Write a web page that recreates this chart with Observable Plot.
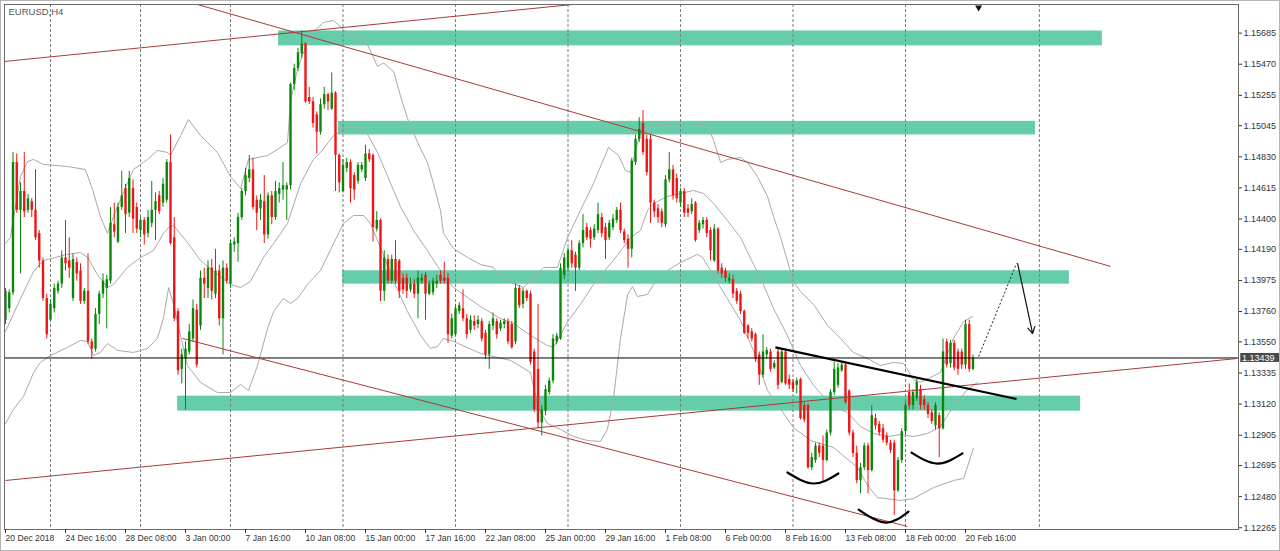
<!DOCTYPE html>
<html><head><meta charset="utf-8">
<script src="https://cdn.jsdelivr.net/npm/d3@7"></script>
<script src="https://cdn.jsdelivr.net/npm/@observablehq/plot@0.6"></script>
<style>
html,body{margin:0;padding:0;background:#fff;}
#wrap{position:relative;width:1280px;height:551px;overflow:hidden;}
#edge{position:absolute;left:0;top:0;width:1280px;height:551px;box-sizing:border-box;border:1px solid #b5b5b5;pointer-events:none;}
</style></head><body><div id="wrap"><div id="chart"></div><div id="edge"></div></div>
<script>
// ---- EURUSD H4 candles (bar index 0 = 20 Dec 2018 00:00) ----
const opens = [
1.1370,1.1378,1.1389,1.1479,1.1446,1.1459,1.1446,1.1452,1.1446,1.1430,
1.1411,1.1385,1.1370,1.1378,1.1390,1.1395,1.1413,1.1411,1.1385,1.1410,
1.1404,1.1383,1.1390,1.1355,1.1350,1.1374,1.1388,1.1392,1.1397,1.1436,
1.1424,1.1448,1.1461,1.1444,1.1461,1.1448,1.1432,1.1439,1.1430,1.1437,
1.1446,1.1456,1.1451,1.1453,1.1479,1.1427,1.1376,1.1336,1.1343,1.1348,
1.1357,1.1377,1.1366,1.1399,1.1392,1.1406,1.1388,1.1404,1.1371,1.1406,
1.1395,1.1422,1.1423,1.1441,1.1459,1.1468,1.1474,1.1453,1.1447,1.1452,
1.1429,1.1456,1.1441,1.1457,1.1460,1.1460,1.1463,1.1533,1.1544,1.1554,
1.1561,1.1524,1.1521,1.1512,1.1500,1.1519,1.1526,1.1516,1.1527,1.1484,
1.1459,1.1475,1.1479,1.1470,1.1466,1.1474,1.1468,1.1485,1.1484,1.1433,
1.1439,1.1390,1.1412,1.1397,1.1412,1.1411,1.1399,1.1399,1.1391,1.1395,
1.1388,1.1397,1.1401,1.1388,1.1389,1.1395,1.1401,1.1399,1.1399,1.1359,
1.1360,1.1376,1.1378,1.1371,1.1363,1.1369,1.1367,1.1369,1.1361,1.1346,
1.1366,1.1369,1.1364,1.1367,1.1369,1.1367,1.1355,1.1392,1.1381,1.1390,
1.1388,1.1348,1.1336,1.1299,1.1307,1.1320,1.1328,1.1355,1.1357,1.1401,
1.1406,1.1418,1.1415,1.1406,1.1423,1.1434,1.1432,1.1427,1.1432,1.1441,
1.1434,1.1427,1.1434,1.1439,1.1446,1.1431,1.1426,1.1419,1.1479,1.1495,
1.1506,1.1495,1.1495,1.1451,1.1447,1.1445,1.1436,1.1467,1.1474,1.1468,
1.1451,1.1459,1.1447,1.1445,1.1451,1.1432,1.1436,1.1439,1.1432,1.1411,
1.1433,1.1406,1.1404,1.1397,1.1398,1.1390,1.1388,1.1376,1.1366,1.1362,
1.1360,1.1346,1.1332,1.1346,1.1348,1.1337,1.1348,1.1327,1.1348,1.1329,
1.1327,1.1325,1.1329,1.1311,1.1311,1.1268,1.1273,1.1283,1.1283,1.1273,
1.1292,1.1320,1.1325,1.1335,1.1339,1.1321,1.1292,1.1278,1.1259,1.1268,
1.1283,1.1266,1.1302,1.1298,1.1295,1.1290,1.1285,1.1285,1.1252,1.1273,
1.1293,1.1320,1.1311,1.1316,1.1322,1.1315,1.1311,1.1306,1.1297,1.1304,
1.1295,1.1355,1.1340,1.1354,1.1348,1.1348,1.1339,1.1367,1.1336];
const highs = [
1.1392,1.1391,1.1486,1.1485,1.1465,1.1486,1.1457,1.1454,1.1474,1.1432,
1.1413,1.1388,1.1384,1.1395,1.1397,1.1418,1.1439,1.1427,1.1416,1.1413,
1.1409,1.1392,1.1416,1.1357,1.1378,1.1390,1.1402,1.1401,1.1448,1.1451,
1.1451,1.1473,1.1464,1.1473,1.1467,1.1451,1.1441,1.1441,1.1446,1.1466,
1.1458,1.1459,1.1468,1.1481,1.1498,1.1441,1.1378,1.1350,1.1355,1.1367,
1.1384,1.1381,1.1404,1.1406,1.1411,1.1412,1.1419,1.1408,1.1411,1.1409,
1.1425,1.1427,1.1444,1.1461,1.1475,1.1484,1.1482,1.1456,1.1457,1.1470,
1.1458,1.1459,1.1466,1.1465,1.1479,1.1465,1.1534,1.1547,1.1558,1.1570,
1.1562,1.1531,1.1524,1.1514,1.1523,1.1531,1.1527,1.1541,1.1528,1.1485,
1.1481,1.1482,1.1481,1.1472,1.1479,1.1479,1.1491,1.1488,1.1485,1.1445,
1.1440,1.1418,1.1415,1.1415,1.1425,1.1412,1.1402,1.1402,1.1399,1.1398,
1.1404,1.1402,1.1403,1.1397,1.1399,1.1401,1.1404,1.1410,1.1402,1.1374,
1.1381,1.1382,1.1391,1.1374,1.1373,1.1373,1.1373,1.1371,1.1363,1.1369,
1.1375,1.1371,1.1370,1.1371,1.1371,1.1369,1.1395,1.1394,1.1392,1.1391,
1.1390,1.1350,1.1381,1.1311,1.1325,1.1330,1.1360,1.1361,1.1409,1.1416,
1.1420,1.1425,1.1417,1.1425,1.1443,1.1437,1.1434,1.1436,1.1451,1.1444,
1.1437,1.1439,1.1443,1.1448,1.1451,1.1433,1.1429,1.1482,1.1498,1.1510,
1.1515,1.1498,1.1498,1.1453,1.1450,1.1447,1.1470,1.1486,1.1477,1.1471,
1.1461,1.1461,1.1450,1.1454,1.1452,1.1439,1.1441,1.1441,1.1434,1.1436,
1.1434,1.1409,1.1406,1.1402,1.1401,1.1392,1.1390,1.1377,1.1367,1.1364,
1.1361,1.1348,1.1360,1.1351,1.1350,1.1342,1.1350,1.1350,1.1350,1.1332,
1.1329,1.1330,1.1330,1.1313,1.1312,1.1278,1.1285,1.1285,1.1290,1.1294,
1.1322,1.1341,1.1340,1.1341,1.1340,1.1322,1.1294,1.1283,1.1271,1.1285,
1.1285,1.1311,1.1305,1.1300,1.1298,1.1292,1.1287,1.1287,1.1275,1.1295,
1.1313,1.1326,1.1322,1.1329,1.1325,1.1318,1.1313,1.1308,1.1313,1.1306,
1.1357,1.1357,1.1356,1.1356,1.1350,1.1350,1.1370,1.1370,1.1346];
const lows = [
1.1367,1.1375,1.1387,1.1444,1.1402,1.1441,1.1444,1.1441,1.1425,1.1406,
1.1383,1.1357,1.1369,1.1375,1.1388,1.1392,1.1404,1.1399,1.1383,1.1397,
1.1381,1.1381,1.1353,1.1343,1.1348,1.1367,1.1385,1.1364,1.1395,1.1427,
1.1423,1.1446,1.1430,1.1441,1.1430,1.1430,1.1427,1.1422,1.1427,1.1434,
1.1425,1.1443,1.1448,1.1451,1.1422,1.1369,1.1332,1.1326,1.1308,1.1346,
1.1355,1.1337,1.1363,1.1385,1.1385,1.1384,1.1385,1.1366,1.1346,1.1395,
1.1392,1.1417,1.1410,1.1439,1.1456,1.1465,1.1446,1.1432,1.1439,1.1423,
1.1426,1.1436,1.1439,1.1451,1.1453,1.1439,1.1460,1.1529,1.1542,1.1551,
1.1520,1.1519,1.1503,1.1485,1.1498,1.1516,1.1515,1.1515,1.1459,1.1458,
1.1458,1.1472,1.1451,1.1453,1.1464,1.1472,1.1466,1.1479,1.1424,1.1431,
1.1383,1.1383,1.1395,1.1395,1.1395,1.1385,1.1388,1.1385,1.1389,1.1385,
1.1371,1.1395,1.1370,1.1387,1.1387,1.1392,1.1395,1.1395,1.1354,1.1357,
1.1359,1.1374,1.1369,1.1357,1.1361,1.1363,1.1364,1.1355,1.1343,1.1336,
1.1363,1.1357,1.1362,1.1364,1.1353,1.1350,1.1353,1.1378,1.1378,1.1383,
1.1339,1.1306,1.1295,1.1290,1.1304,1.1318,1.1326,1.1353,1.1356,1.1398,
1.1404,1.1406,1.1390,1.1404,1.1420,1.1425,1.1420,1.1425,1.1430,1.1427,
1.1412,1.1425,1.1432,1.1437,1.1430,1.1423,1.1406,1.1413,1.1477,1.1493,
1.1484,1.1470,1.1437,1.1441,1.1437,1.1434,1.1434,1.1465,1.1453,1.1451,
1.1448,1.1441,1.1441,1.1443,1.1424,1.1430,1.1433,1.1427,1.1411,1.1410,
1.1402,1.1399,1.1396,1.1395,1.1385,1.1381,1.1374,1.1360,1.1357,1.1355,
1.1341,1.1325,1.1330,1.1343,1.1334,1.1336,1.1322,1.1326,1.1325,1.1322,
1.1320,1.1319,1.1301,1.1299,1.1267,1.1266,1.1271,1.1275,1.1259,1.1272,
1.1290,1.1318,1.1323,1.1334,1.1312,1.1290,1.1275,1.1257,1.1250,1.1266,
1.1250,1.1265,1.1294,1.1290,1.1285,1.1283,1.1278,1.1235,1.1251,1.1271,
1.1291,1.1308,1.1308,1.1314,1.1308,1.1308,1.1302,1.1298,1.1294,1.1275,
1.1294,1.1337,1.1337,1.1335,1.1332,1.1336,1.1336,1.1334,1.1335];
const closes = [
1.1390,1.1389,1.1479,1.1446,1.1459,1.1445,1.1454,1.1446,1.1427,1.1411,
1.1385,1.1360,1.1381,1.1392,1.1395,1.1413,1.1409,1.1406,1.1412,1.1402,
1.1383,1.1390,1.1355,1.1350,1.1374,1.1388,1.1397,1.1398,1.1437,1.1431,
1.1448,1.1456,1.1443,1.1468,1.1440,1.1433,1.1439,1.1429,1.1441,1.1446,
1.1452,1.1445,1.1464,1.1479,1.1423,1.1371,1.1335,1.1346,1.1350,1.1362,
1.1378,1.1339,1.1399,1.1395,1.1406,1.1390,1.1404,1.1371,1.1406,1.1397,
1.1423,1.1424,1.1441,1.1459,1.1470,1.1474,1.1448,1.1444,1.1453,1.1429,
1.1456,1.1441,1.1459,1.1461,1.1463,1.1463,1.1533,1.1544,1.1555,1.1561,
1.1521,1.1521,1.1506,1.1500,1.1519,1.1526,1.1521,1.1527,1.1484,1.1465,
1.1477,1.1479,1.1461,1.1460,1.1477,1.1477,1.1485,1.1481,1.1434,1.1439,
1.1390,1.1413,1.1397,1.1412,1.1397,1.1390,1.1391,1.1390,1.1395,1.1388,
1.1399,1.1399,1.1388,1.1395,1.1397,1.1397,1.1397,1.1397,1.1360,1.1371,
1.1378,1.1380,1.1371,1.1360,1.1370,1.1366,1.1370,1.1357,1.1346,1.1367,
1.1371,1.1360,1.1368,1.1369,1.1355,1.1351,1.1392,1.1380,1.1390,1.1385,
1.1341,1.1308,1.1299,1.1308,1.1322,1.1328,1.1357,1.1359,1.1406,1.1413,
1.1418,1.1409,1.1406,1.1423,1.1432,1.1427,1.1426,1.1433,1.1443,1.1430,
1.1425,1.1437,1.1440,1.1446,1.1432,1.1425,1.1419,1.1480,1.1495,1.1502,
1.1486,1.1472,1.1451,1.1445,1.1441,1.1437,1.1467,1.1474,1.1456,1.1454,
1.1459,1.1444,1.1444,1.1450,1.1425,1.1437,1.1439,1.1430,1.1418,1.1433,
1.1404,1.1402,1.1399,1.1399,1.1388,1.1383,1.1376,1.1361,1.1361,1.1357,
1.1343,1.1332,1.1348,1.1349,1.1336,1.1340,1.1325,1.1348,1.1326,1.1325,
1.1322,1.1328,1.1302,1.1301,1.1268,1.1275,1.1283,1.1278,1.1273,1.1292,
1.1320,1.1336,1.1337,1.1339,1.1313,1.1292,1.1278,1.1259,1.1268,1.1283,
1.1266,1.1304,1.1297,1.1292,1.1287,1.1285,1.1280,1.1252,1.1273,1.1293,
1.1311,1.1311,1.1320,1.1327,1.1311,1.1311,1.1305,1.1300,1.1311,1.1295,
1.1348,1.1339,1.1354,1.1337,1.1336,1.1339,1.1367,1.1336,1.13439];

// ---- Bollinger bands, read as [bar index, price] ----
const upperBand = [[0,1.14231],[1.3,1.14272],[4,1.14694],[5.9,1.14798],[7.5,1.14812],[10.1,1.14777],[16.5,1.14763],[21.3,1.14742],[23.2,1.14604],[25.3,1.14417],[27.2,1.14300],[28.8,1.14417],[32.5,1.14646],[34.1,1.14742],[37.9,1.14812],[40.5,1.14874],[43.2,1.14860],[44,1.14839],[46.7,1.14977],[48.8,1.15088],[52,1.14977],[56.5,1.14860],[60,1.14694],[62.7,1.14611],[64.8,1.14812],[69.9,1.14839],[72.5,1.14881],[75.2,1.14929],[76,1.15213],[77.9,1.15441],[81.3,1.15676],[84.8,1.15759],[87.5,1.15773],[90.1,1.15710],[96.5,1.15607],[99.2,1.15455],[100.8,1.15479],[103.5,1.15420],[105.3,1.15254],[107.2,1.15095],[109.9,1.14929],[112.5,1.14791],[114.1,1.14646],[116,1.14459],[116.8,1.14300],[119.5,1.14196],[123.2,1.14134],[126.7,1.14085],[130.1,1.14065],[132,1.13996],[138.1,1.13926],[143.5,1.14065],[147.2,1.14065],[149.9,1.14272],[153.3,1.14459],[156.8,1.14646],[160.8,1.14895],[163.5,1.14839],[165.3,1.14735],[166.7,1.14722],[168,1.14874],[169.3,1.14991],[172,1.15040],[174.7,1.15054],[182.7,1.15061],[187.2,1.15047],[188.8,1.14943],[190.7,1.14791],[192.5,1.14812],[196,1.14825],[197.9,1.14791],[200.5,1.14694],[203.2,1.14556],[204.8,1.14417],[206.7,1.14272],[210.1,1.13968],[212,1.13899],[215.5,1.13809],[219.2,1.13664],[222.7,1.13574],[226.1,1.13477],[229.9,1.13435],[233.3,1.13387],[236.8,1.13408],[239.5,1.13401],[242.1,1.13290],[244,1.13270],[249.3,1.13339],[252.8,1.13574],[255.5,1.13691],[257.9,1.13726]];
const middleBand = [[0,1.13622],[4,1.13850],[7.5,1.14037],[10.1,1.14113],[16.5,1.14155],[20,1.14168],[21.9,1.14134],[24.5,1.14016],[27.2,1.13926],[28.8,1.13947],[32.5,1.14065],[36,1.14134],[39.5,1.14182],[42.1,1.14300],[43.5,1.14341],[44.8,1.14355],[48.5,1.14238],[52,1.14113],[55.5,1.14037],[60,1.13947],[62.7,1.13926],[65.3,1.13968],[68.8,1.14134],[71.5,1.14231],[75.2,1.14369],[78.7,1.14646],[82.1,1.14812],[84,1.14860],[87.5,1.14977],[90.1,1.15022],[92.8,1.15047],[96.5,1.14988],[99.2,1.14860],[101.9,1.14694],[105.3,1.14487],[108.8,1.14321],[112.5,1.14182],[116,1.14044],[119.5,1.13926],[123.2,1.13857],[126.7,1.13795],[130.1,1.13740],[132,1.13712],[135.5,1.13677],[140,1.13595],[144.5,1.13525],[146.1,1.13515],[148,1.13595],[149.9,1.13691],[153.3,1.13809],[156.8,1.13947],[160.5,1.14065],[162.1,1.14113],[166.7,1.14272],[169.3,1.14321],[171.2,1.14459],[172.8,1.14507],[176.5,1.14556],[180,1.14576],[183.5,1.14597],[186.1,1.14576],[188.8,1.14507],[192.5,1.14390],[196,1.14272],[199.5,1.14085],[202.1,1.13947],[204.8,1.13781],[208.5,1.13595],[212,1.13387],[215.5,1.13249],[218.1,1.13173],[220.8,1.13104],[224.5,1.13062],[228,1.12965],[231.5,1.12917],[235.2,1.12896],[238.7,1.12910],[242.1,1.12896],[245.9,1.12917],[249.3,1.12965],[252.8,1.13104],[256.5,1.13221],[259.2,1.13270]];
const lowerBand = [[0,1.12986],[2.1,1.13083],[4.8,1.13173],[7.5,1.13339],[9.3,1.13408],[12,1.13456],[16.5,1.13512],[20,1.13560],[21.9,1.13553],[23.5,1.13456],[25.3,1.13477],[27.2,1.13539],[29.9,1.13491],[34.1,1.13477],[37.9,1.13505],[40.5,1.13574],[42.1,1.13712],[43.5,1.13926],[44.8,1.13809],[48.5,1.13387],[52,1.13270],[56.5,1.13200],[60,1.13200],[62.7,1.13256],[64.8,1.13214],[67.2,1.13387],[69.9,1.13643],[71.5,1.13760],[74.1,1.13850],[76,1.13816],[77.9,1.13850],[80.5,1.13947],[84,1.14044],[87.5,1.14231],[90.1,1.14369],[92.8,1.14424],[95.5,1.14424],[97.3,1.14369],[100,1.14203],[103.5,1.13968],[107.2,1.13760],[110.7,1.13595],[113.3,1.13505],[115.2,1.13518],[116.8,1.13574],[119.5,1.13553],[126.7,1.13470],[131.2,1.13442],[134.7,1.13422],[140,1.13339],[141.9,1.13104],[144.5,1.12986],[148,1.12945],[151.5,1.12896],[155.2,1.12868],[158.7,1.12862],[160.5,1.12945],[162.1,1.13152],[164,1.13574],[165.9,1.13878],[167.2,1.13933],[168.5,1.13864],[171.2,1.13878],[172.8,1.13947],[176.5,1.14044],[180,1.14099],[184.5,1.14155],[185.9,1.14134],[188,1.14044],[190.7,1.13926],[196,1.13698],[200,1.13456],[203.2,1.13214],[210.1,1.12958],[214.7,1.12868],[220.8,1.12820],[227.2,1.12682],[229.9,1.12557],[232.5,1.12474],[238.7,1.12454],[242.1,1.12467],[247.5,1.12543],[252.8,1.12592],[255.5,1.12606],[258.1,1.12813]];

// ---- Drawn objects ----
const zoneX1 = [72.8, 88.8, 89.9, 45.9];
const zoneX2 = [292.5, 274.7, 283.7, 286.7];
const zoneLow = [1.15597, 1.14981, 1.13949, 1.13071];
const zoneHigh = [1.15700, 1.15075, 1.14042, 1.13175];
// brown channel lines [x1, y1, x2, y2]
const trendLines = [
  [-0.27, 1.15489, 151.2, 1.15883],
  [51.2, 1.15883, 294.7, 1.14072],
  [47.2, 1.13574, 240.5, 1.12274],
  [0, 1.12592, 328.3, 1.13435]
];
const neckline = [205.3, 1.13512, 269.6, 1.13155];
const arcIdx = [[208.5, 215.5, 222.1], [227.5, 234.7, 240.8], [241.6, 248.5, 255.2]];
const arcPrice = [[1.12647, 1.12571, 1.12640], [1.12391, 1.12301, 1.12377], [1.12785, 1.12709, 1.12779]];
const forecast = [259.5, 1.13449, 269.6, 1.14092];
const forecastArrow = [269.9, 1.14092, 273.9, 1.13608];
const lastPrice = 1.13439;
const gridIdx = [12, 36, 60, 90, 120, 150, 180, 210, 240, 275.7];
const yTicks = [1.15685, 1.15470, 1.15255, 1.15045, 1.14830, 1.14615, 1.14400, 1.14190, 1.13975, 1.13760, 1.13550, 1.13335, 1.13120, 1.12905, 1.12695, 1.12480, 1.12265];
const xTickIdx = [0,16,32,48,64,80,96,112,128,144,160,176,192,208,224,240,256];
const xTickLabels = ["20 Dec 2018","24 Dec 16:00","28 Dec 08:00","3 Jan 00:00","7 Jan 16:00","10 Jan 08:00","15 Jan 00:00","17 Jan 16:00","22 Jan 08:00","25 Jan 00:00","29 Jan 16:00","1 Feb 08:00","6 Feb 00:00","8 Feb 16:00","13 Feb 08:00","18 Feb 00:00","20 Feb 16:00"];

const GREEN = "#0a870a", RED = "#f01414", BAND = "#a9a9a9", BROWN = "#a83a3a", ZONE = "#66cdaa";

const candles = opens.map((o, i) => ({i, o, h: highs[i], l: lows[i], c: closes[i], col: closes[i] >= o ? GREEN : RED}));
const zones = zoneX1.map((x1, k) => ({x1, x2: zoneX2[k], y1: zoneLow[k], y2: zoneHigh[k]}));
const tl = trendLines.map(d => ({x1: d[0], y1: d[1], x2: d[2], y2: d[3]}));
const arcs = arcIdx.flatMap((xs, k) => xs.map((x, j) => ({k, x, y: arcPrice[k][j]})));
const labelOf = new Map(xTickIdx.map((d, k) => [d, xTickLabels[k]]));

const chart = Plot.plot({
  width: 1280, height: 551,
  marginLeft: 4, marginRight: 42, marginTop: 4, marginBottom: 22,
  x: {domain: [-0.2667, 328.8]},
  y: {domain: [1.12253, 1.15883]},
  style: {fontFamily: "'Liberation Sans', Arial, sans-serif", fontSize: "9px", color: "#333", background: "#fff", overflow: "visible"},
  marks: [
    Plot.rect(zones, {x1: "x1", x2: "x2", y1: "y1", y2: "y2", fill: ZONE}),
    Plot.ruleX(gridIdx, {stroke: "#7d7d7d", strokeDasharray: "3,2", strokeWidth: 1}),
    Plot.line(upperBand, {x: d => d[0], y: d => d[1], stroke: BAND, strokeWidth: 1}),
    Plot.line(middleBand, {x: d => d[0], y: d => d[1], stroke: BAND, strokeWidth: 1}),
    Plot.line(lowerBand, {x: d => d[0], y: d => d[1], stroke: BAND, strokeWidth: 1}),
    Plot.ruleX(candles, {x: "i", y1: "l", y2: "h", stroke: "col", strokeWidth: 1}),
    Plot.ruleX(candles, {x: "i", y1: "o", y2: "c", stroke: "col", strokeWidth: 2.4}),
    Plot.ruleY([lastPrice], {stroke: "#000", strokeWidth: 1}),
    Plot.link(tl, {x1: "x1", y1: "y1", x2: "x2", y2: "y2", stroke: BROWN, strokeWidth: 1, clip: true}),
    Plot.link([neckline], {x1: d => d[0], y1: d => d[1], x2: d => d[2], y2: d => d[3], stroke: "#000", strokeWidth: 2.2}),
    Plot.line(arcs, {x: "x", y: "y", z: "k", curve: "natural", stroke: "#000", strokeWidth: 2.2}),
    Plot.link([forecast], {x1: d => d[0], y1: d => d[1], x2: d => d[2], y2: d => d[3], stroke: "#222", strokeWidth: 1, strokeDasharray: "2,2"}),
    Plot.arrow([forecastArrow], {x1: d => d[0], y1: d => d[1], x2: d => d[2], y2: d => d[3], stroke: "#111", strokeWidth: 1.2, headLength: 9}),
    Plot.dot([{x: 259.5, y: 1.15862}], {x: "x", y: "y", symbol: "triangle", rotate: 180, r: 2.6, fill: "#111", stroke: "none"}),
    Plot.frame({stroke: "#6a6a6a", strokeWidth: 1}),
    Plot.axisY({ticks: yTicks, anchor: "right", tickSize: 3, tickPadding: 2, tickFormat: d => d.toFixed(5), fill: "#333"}),
    Plot.axisX({ticks: xTickIdx, anchor: "bottom", tickSize: 4, tickPadding: 1, textAnchor: "start", tickFormat: d => labelOf.get(d), fill: "#333", fontSize: 8.6}),
    Plot.rect([lastPrice], {x1: 329.4, x2: 340.5, y1: d => d - 0.00031, y2: d => d + 0.00031, fill: "#4a4a4a"}),
    Plot.text([lastPrice], {x: 329.7, y: d => d, text: d => d.toFixed(5), textAnchor: "start", fill: "#fff", fontSize: 9}),
    Plot.text(["EURUSD,H4"], {frameAnchor: "top-left", dx: 4, dy: 4, text: d => d, textAnchor: "start", lineAnchor: "top", fill: "#555", fontSize: 9.5})
  ]
});
document.getElementById("chart").appendChild(chart);
</script>
</body></html>
